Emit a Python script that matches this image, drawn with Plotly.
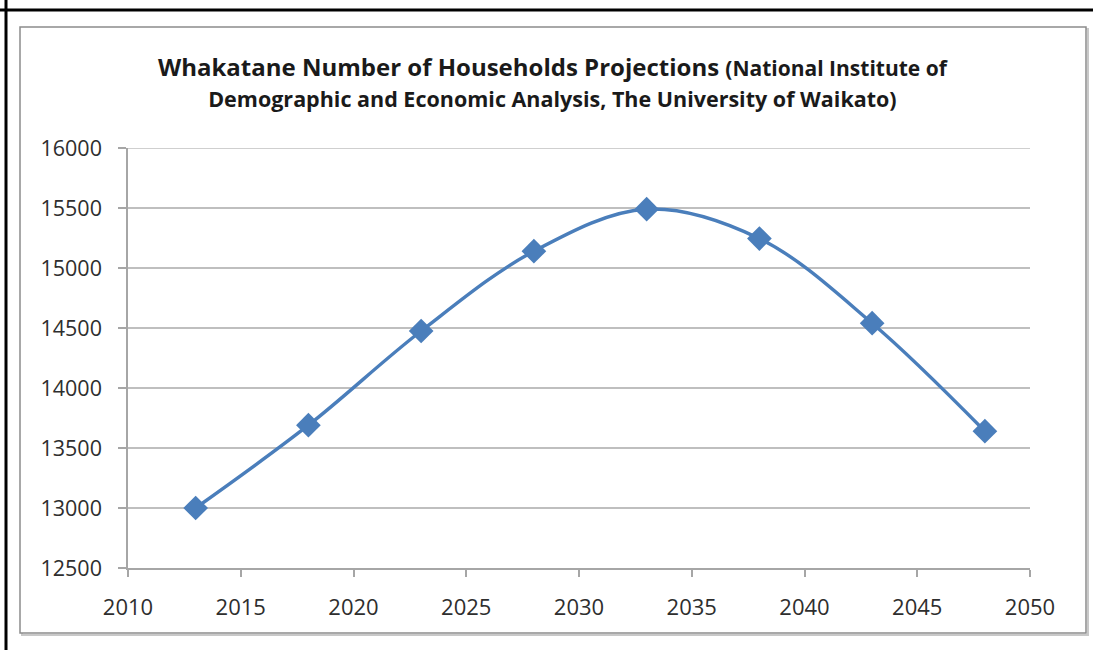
import plotly.graph_objects as go

# Projected number of households, Whakatane district
years = [2013, 2018, 2023, 2028, 2033, 2038, 2043, 2048]
households = [13000, 13690, 14475, 15140, 15490, 15245, 14540, 13640]

x_ticks = [2010, 2015, 2020, 2025, 2030, 2035, 2040, 2045, 2050]
y_ticks = [12500, 13000, 13500, 14000, 14500, 15000, 15500, 16000]
y_tick_labels = [str(v) for v in y_ticks]
x_tick_labels = [str(v) for v in x_ticks]

W, H = 1093, 650
L, R, T, B = 128, 63, 148, 82
PW, PH = W - L - R, H - T - B


def px(x):
    return (x - L) / PW


def py(y):
    return (H - B - y) / PH


BLUE = "#4a7ebb"
FONT = "Open Sans"
GRID = "#bfbfbf"

fig = go.Figure()
fig.add_trace(go.Scatter(
    x=years, y=households, mode="lines+markers",
    line=dict(color=BLUE, width=3.4, shape="spline", smoothing=1),
    marker=dict(symbol="diamond", size=19, color=BLUE),
    showlegend=False, hoverinfo="x+y",
))

shapes = [
    # chart frame with soft shadow
    dict(type="rect", xref="paper", yref="paper",
         x0=px(22), x1=px(1088), y0=py(29), y1=py(635),
         line=dict(color="#c8c8c8", width=2), layer="below"),
    dict(type="rect", xref="paper", yref="paper",
         x0=px(20), x1=px(1086), y0=py(27), y1=py(633),
         line=dict(color="#8c8c8c", width=1.5), fillcolor="white", layer="below"),
    # top gridline at the upper end of the value axis
    dict(type="line", xref="paper", yref="y",
         x0=0, x1=1, y0=y_ticks[-1], y1=y_ticks[-1],
         line=dict(color=GRID, width=1.5), layer="below"),
    # outer page rules
    dict(type="line", xref="paper", yref="paper",
         x0=px(0), x1=px(W), y0=py(10), y1=py(10),
         line=dict(color="black", width=3)),
    dict(type="line", xref="paper", yref="paper",
         x0=px(6), x1=px(6), y0=py(0), y1=py(H),
         line=dict(color="black", width=3)),
]

title_text = ("<b>Whakatane Number of Households Projections "
              "<span style='font-size:21px'>(National Institute of</span></b><br>"
              "<b><span style='font-size:21.5px'>Demographic and Economic Analysis, "
              "The University of Waikato)</span></b>")

fig.update_layout(
    width=W, height=H,
    margin=dict(l=L, r=R, t=T, b=B),
    paper_bgcolor="white", plot_bgcolor="white",
    shapes=shapes,
    annotations=[dict(
        text=title_text, xref="paper", yref="paper",
        x=px(553), y=py(82), xanchor="center", yanchor="middle",
        showarrow=False, align="center",
        font=dict(family=FONT, size=24, color="#1a1a1a"),
    )],
    xaxis=dict(
        range=[2010, 2050], tickvals=x_ticks, ticktext=x_tick_labels,
        showgrid=False, zeroline=False,
        showline=True, linecolor="#a6a6a6", linewidth=1.5,
        ticks="outside", ticklen=7, tickcolor="#a6a6a6", tickwidth=1.5,
        ticklabelstandoff=12,
        tickfont=dict(family=FONT, size=22, color="#2e2e2e"),
    ),
    yaxis=dict(
        range=[12500, 16000], tickvals=y_ticks, ticktext=y_tick_labels,
        showgrid=True, gridcolor=GRID, gridwidth=1.5, zeroline=False,
        showline=True, linecolor="#a6a6a6", linewidth=1.5,
        ticks="outside", ticklen=8, tickcolor="#a6a6a6", tickwidth=1.5,
        ticklabelstandoff=12,
        tickfont=dict(family=FONT, size=21.5, color="#2e2e2e"),
    ),
)

fig.write_html("out.html")
